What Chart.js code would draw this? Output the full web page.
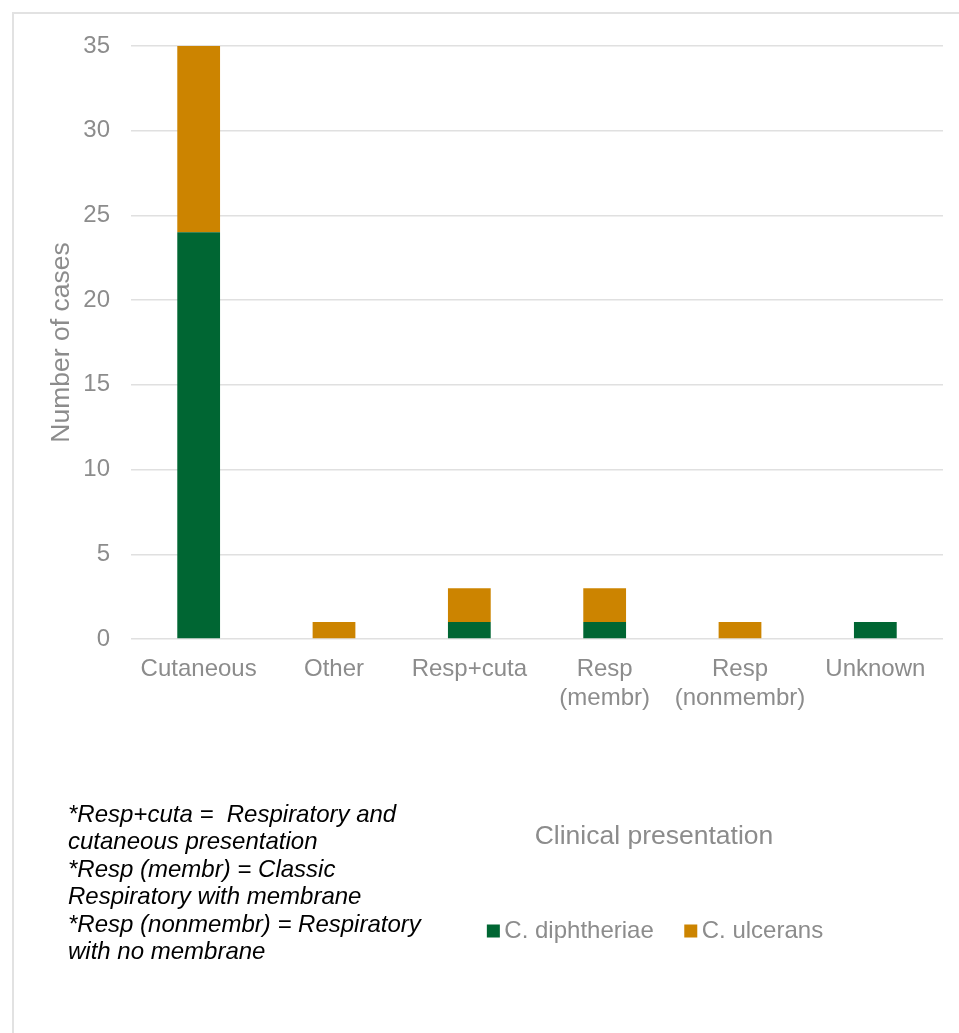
<!DOCTYPE html>
<html>
<head>
<meta charset="utf-8">
<script src="https://cdn.jsdelivr.net/npm/chart.js@4/dist/chart.umd.min.js"></script>
<style>
  html, body { margin: 0; padding: 0; background: #ffffff; overflow: hidden; }
  #wrap { position: relative; width: 959px; height: 1033px; }
  canvas { display: block; }
</style>
</head>
<body>
<div id="wrap"><canvas id="cases" width="959" height="1033"></canvas></div>
<script>
// Clinical presentation categories (multi-line labels as arrays)
const categories = ['Cutaneous', 'Other', 'Resp+cuta', ['Resp', '(membr)'], ['Resp', '(nonmembr)'], 'Unknown'];

// Case counts per species
const diphtheriaeCases = [24, 0, 1, 1, 0, 1];
const ulceransCases = [11, 1, 2, 2, 1, 0];

const seriesNames = ['C. diphtheriae', 'C. ulcerans'];
const seriesColors = ['#006633', '#CC8400'];

// Value axis
const yMax = 35;
const yStep = 5;

const yTitle = 'Number of cases';
const xTitle = 'Clinical presentation';

const footnoteLines = [
  '*Resp+cuta =  Respiratory and',
  'cutaneous presentation',
  '*Resp (membr) = Classic',
  'Respiratory with membrane',
  '*Resp (nonmembr) = Respiratory',
  'with no membrane'
];

const FONT = 'Arial, "Liberation Sans", sans-serif';
const GREY = '#8c8c8c';
const GRID = '#e0e0e0';

// Frame, axis caption, footnote and legend drawn around the plot
const decorPlugin = {
  id: 'decor',
  beforeDraw(chart) {
    const ctx = chart.ctx;
    ctx.save();
    ctx.strokeStyle = '#e2e2e2';
    ctx.lineWidth = 2;
    ctx.beginPath();
    ctx.moveTo(13, 1040);
    ctx.lineTo(13, 13);
    ctx.lineTo(970, 13);
    ctx.stroke();
    ctx.restore();
  },
  afterDraw(chart) {
    const ctx = chart.ctx;
    ctx.save();

    // x-axis caption
    ctx.fillStyle = GREY;
    ctx.font = '26.5px ' + FONT;
    ctx.textAlign = 'center';
    ctx.textBaseline = 'alphabetic';
    ctx.fillText(xTitle, 654, 844);

    // footnote
    ctx.fillStyle = '#000000';
    ctx.font = 'italic 24px ' + FONT;
    ctx.textAlign = 'left';
    footnoteLines.forEach((line, i) => {
      ctx.fillText(line, 68, 822 + i * 27.4);
    });

    // legend built from the datasets
    ctx.font = '24px ' + FONT;
    ctx.textBaseline = 'middle';
    const box = 13, gapText = 4.5, gapItem = 30.5;
    const items = chart.data.datasets.map(ds => ({
      label: ds.label,
      color: ds.backgroundColor,
      w: ctx.measureText(ds.label).width
    }));
    let total = 0;
    items.forEach((it, i) => {
      total += box + gapText + it.w + (i < items.length - 1 ? gapItem : 0);
    });
    let x = 655 - total / 2;
    const cy = 931;
    items.forEach(it => {
      ctx.fillStyle = it.color;
      ctx.fillRect(x, cy - box / 2, box, box);
      x += box + gapText;
      ctx.fillStyle = GREY;
      ctx.fillText(it.label, x, cy);
      x += it.w + gapItem;
    });

    ctx.restore();
  }
};

new Chart(document.getElementById('cases'), {
  type: 'bar',
  data: {
    labels: categories,
    datasets: [
      {
        label: seriesNames[0],
        data: diphtheriaeCases,
        backgroundColor: seriesColors[0],
        barPercentage: 0.316,
        categoryPercentage: 1
      },
      {
        label: seriesNames[1],
        data: ulceransCases,
        backgroundColor: seriesColors[1],
        barPercentage: 0.316,
        categoryPercentage: 1
      }
    ]
  },
  options: {
    responsive: false,
    animation: false,
    layout: { padding: { left: 42, right: 16, top: 46, bottom: 294 } },
    plugins: {
      legend: { display: false },
      tooltip: { enabled: false }
    },
    scales: {
      x: {
        stacked: true,
        grid: { display: false },
        border: { display: false },
        ticks: {
          color: GREY,
          font: { family: FONT, size: 24, lineHeight: 1.2 },
          padding: 8,
          maxRotation: 0,
          autoSkip: false
        },
        afterFit(scale) { scale.height = 100; }
      },
      y: {
        stacked: true,
        min: 0,
        max: yMax,
        grid: { color: GRID, lineWidth: 1.5, drawTicks: false },
        border: { display: false },
        ticks: {
          stepSize: yStep,
          color: GREY,
          font: { family: FONT, size: 24 },
          padding: 21
        },
        title: {
          display: true,
          text: yTitle,
          color: GREY,
          font: { family: FONT, size: 26.5 },
          padding: { top: 4, bottom: 0 }
        },
        afterFit(scale) { scale.width = 89; }
      }
    }
  },
  plugins: [decorPlugin]
});
</script>
</body>
</html>
